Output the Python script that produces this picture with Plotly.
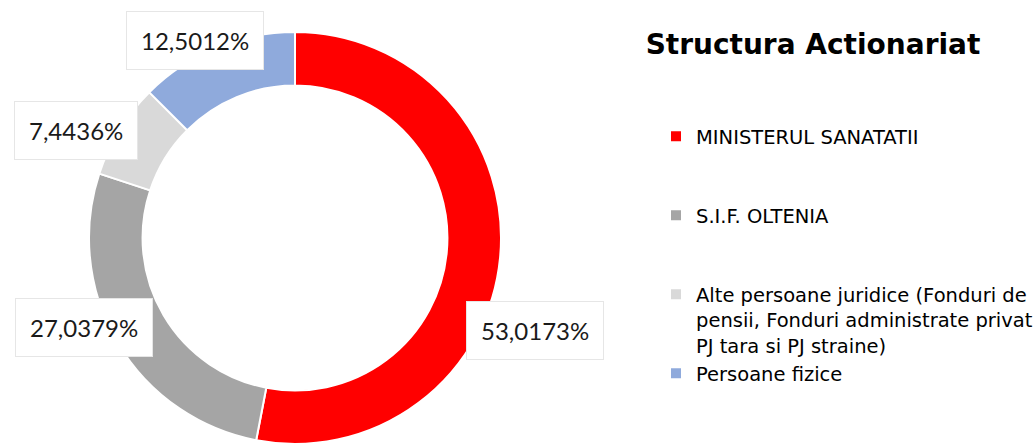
import plotly.graph_objects as go

categories = [
    "MINISTERUL SANATATII",
    "S.I.F. OLTENIA",
    "Alte persoane juridice (Fonduri de<br>pensii, Fonduri administrate privat<br>PJ tara si PJ straine)",
    "Persoane fizice",
]
values = [53.0173, 27.0379, 7.4436, 12.5012]
colors = ["#FF0000", "#A5A5A5", "#D9D9D9", "#8FAADC"]
label_texts = [f"{v:.4f}".replace(".", ",") + "%" for v in values]

# extra blank lines in legend entries to reproduce spacing
legend_pad = ["<br> <br> ", "<br> <br> ", "", ""]
legend_labels = [c + p for c, p in zip(categories, legend_pad)]

W, H = 1035, 445
cx, cy, R = 295, 238, 206

fig = go.Figure(go.Pie(
    labels=legend_labels,
    values=values,
    hole=0.74,
    sort=False,
    direction="clockwise",
    rotation=0,
    marker=dict(colors=colors, line=dict(color="white", width=2)),
    textinfo="none",
    hovertemplate="%{value}<extra></extra>",
    domain=dict(x=[(cx - R) / W, (cx + R) / W], y=[(H - cy - R) / H, (H - cy + R) / H]),
))

label_pos = [(535, 330), (84, 327), (76, 130), (195, 40)]
for t, (px, py) in zip(label_texts, label_pos):
    fig.add_annotation(
        x=px / W, y=1 - py / H, xref="paper", yref="paper",
        text=t, showarrow=False,
        font=dict(family="Lato", size=24, color="#1a1a1a"),
        bgcolor="white", bordercolor="#E6E6E6", borderwidth=1, borderpad=14,
        xanchor="center", yanchor="middle",
    )

fig.update_layout(
    width=W, height=H,
    margin=dict(l=0, r=0, t=0, b=0, autoexpand=False),
    paper_bgcolor="white",
    title=dict(text="<b>Structura Actionariat</b>", x=813 / W, y=1 - 44 / H,
               xanchor="center", yanchor="middle",
               font=dict(family="DejaVu Sans", size=28, color="black")),
    legend=dict(
        x=656 / W, y=1 - 117 / H, xanchor="left", yanchor="top",
        font=dict(family="DejaVu Sans", size=19.5, color="black"),
        valign="top", traceorder="normal", bgcolor="rgba(0,0,0,0)",
    ),
    showlegend=True,
)

fig.write_html("out.html")
